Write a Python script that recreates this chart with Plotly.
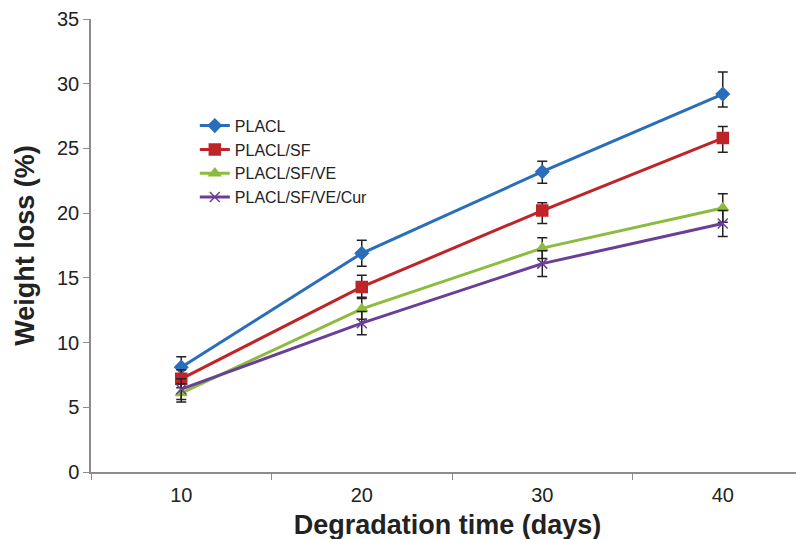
import plotly.graph_objects as go

days = ["10", "20", "30", "40"]
names = ["PLACL", "PLACL/SF", "PLACL/SF/VE", "PLACL/SF/VE/Cur"]
placl = [8.1, 16.9, 23.2, 29.2]
placl_sf = [7.2, 14.3, 20.2, 25.8]
placl_sf_ve = [6.1, 12.6, 17.3, 20.4]
placl_sf_ve_cur = [6.4, 11.5, 16.1, 19.2]
err_plus = [
    [0.8, 1.0, 0.8, 1.7],
    [0.7, 0.9, 0.6, 0.9],
    [0.7, 0.8, 0.8, 1.1],
    [0.8, 0.9, 1.0, 1.0],
]
err_minus = [
    [0.8, 1.0, 0.9, 1.0],
    [0.7, 0.8, 1.0, 1.1],
    [0.7, 0.8, 0.8, 1.1],
    [0.8, 0.9, 1.0, 1.0],
]
y_ticks = [0, 5, 10, 15, 20, 25, 30, 35]

series = [placl, placl_sf, placl_sf_ve, placl_sf_ve_cur]
colors = ["#2a6ebb", "#be2428", "#8dbb3c", "#6a3f98"]
symbols = ["diamond", "square", "triangle-up", "x-thin"]
sizes = [10, 11, 10, 10]

fig = go.Figure()
for i, (nm, ys) in enumerate(zip(names, series)):
    fig.add_trace(go.Scatter(
        x=days, y=ys, name=nm, mode="lines+markers",
        line=dict(color=colors[i], width=3),
        marker=dict(symbol=symbols[i], size=sizes[i], color=colors[i],
                    line=dict(color=colors[i], width=1.5)),
        error_y=dict(type="data", symmetric=False, array=err_plus[i],
                     arrayminus=err_minus[i], color="#222222",
                     thickness=1.5, width=5),
    ))

fig.update_layout(
    width=804, height=539,
    margin=dict(l=83, r=8, t=11, b=75),
    paper_bgcolor="white", plot_bgcolor="white",
    font=dict(family="Liberation Sans, Arial, sans-serif", color="#222222"),
    showlegend=True,
    legend=dict(x=0.1456, y=0.802, xanchor="left", yanchor="top",
                bgcolor="rgba(0,0,0,0)", font=dict(size=16, color="#222222"),
                tracegroupgap=0, itemwidth=30),
    xaxis=dict(
        type="category", range=[-0.5, 3.45], tickson="boundaries",
        ticks="outside", ticklen=6, tickcolor="#8c8c8c", tickwidth=1,
        showline=True, linecolor="#8c8c8c", linewidth=1.5,
        showgrid=False, zeroline=False, automargin=False,
        ticklabelstandoff=4,
        tickfont=dict(size=20, color="#222222"),
        title=dict(text="<b>Degradation time (days)</b>",
                   font=dict(size=27, color="#222222"), standoff=10),
    ),
    yaxis=dict(
        range=[0, 35], tickvals=y_ticks,
        ticks="outside", ticklen=6, tickcolor="#8c8c8c", tickwidth=1,
        showline=True, linecolor="#8c8c8c", linewidth=1.5,
        showgrid=False, zeroline=False, automargin=False,
        tickfont=dict(size=20, color="#222222"),
        title=dict(text="<b>Weight loss (%)</b>",
                   font=dict(size=27, color="#222222"), standoff=15),
    ),
)

fig.write_html("out.html")
